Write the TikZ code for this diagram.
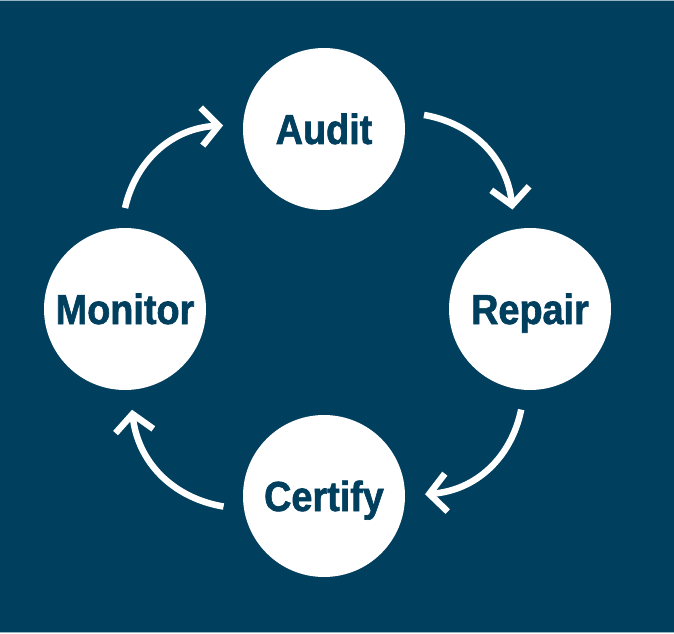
\documentclass[tikz,border=0pt]{standalone}
\usepackage{fontspec}
\newfontfamily\stagefont[FakeStretch=0.9,FakeBold=1.5]{Liberation Sans}
\usetikzlibrary{arrows.meta,positioning}
\definecolor{navy}{RGB}{1,63,94}
\definecolor{rim}{RGB}{150,180,196}

\begin{document}
\begin{tikzpicture}[x=1pt,y=1pt,on grid,
		stage/.style={circle,fill=white,minimum size=162pt,inner sep=0pt,outer sep=20pt,
			text=navy,text height=30pt,text depth=0pt,
			font=\stagefont\bfseries\fontsize{42}{48}\selectfont},
		flow/.style={draw=white,line width=6.5pt,bend left=37,
			-{Straight Barb[length=17pt,width=38pt,line cap=butt,line join=miter]}}]
		\path[use as bounding box,fill=navy] (0,0) rectangle (674,633);
		\draw[rim,line width=1.5pt] (0,632.25) -- (674,632.25) (0,0.75) -- (674,0.75);
		\node[stage] (audit) at (324,504) {Audit};
		\node[stage] (repair) [below right=180pt and 206pt of audit] {Repair};
		\node[stage] (certify) [below left=187pt and 206pt of repair] {Certify};
		\node[stage] (monitor) [above left=187pt and 199pt of certify] {Monitor};
		\path
		(audit.8) edge [flow] (repair.100)
		(repair.265) edge [flow] (certify.1)
		(certify.186) edge [flow] (monitor.274)
		(monitor.90) edge [flow] (audit.178);
\end{tikzpicture}
\end{document}
